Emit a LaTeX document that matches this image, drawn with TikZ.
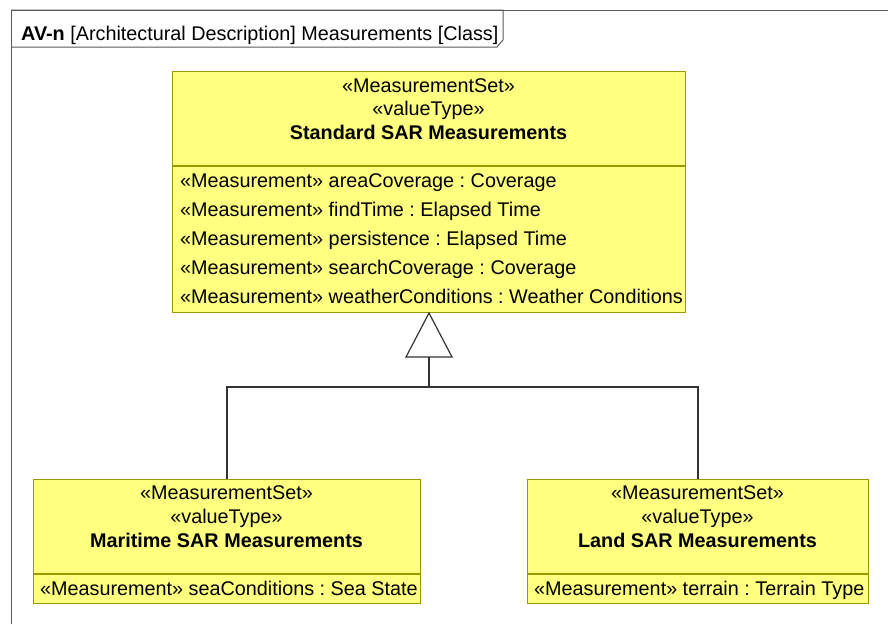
\documentclass[tikz,border=0pt]{standalone}
\usepackage{fontspec}
\setmainfont{Liberation Sans}
\frenchspacing
\usetikzlibrary{positioning}
\definecolor{umlyellow}{RGB}{255,255,128}
\definecolor{umlolive}{RGB}{153,153,0}
\tikzset{
    x=1pt, y=-1pt, % pixel-like units, y grows downwards
    every node/.style={font=\fontsize{19.8}{23}\selectfont, inner sep=0pt}, % text size for all labels
    block/.style={draw=umlolive, fill=umlyellow, line width=1pt, minimum width=#1}, % a compartment of a class box
    title/.style={anchor=base}, % centred header lines
    attr/.style={anchor=base west}, % attribute lines
    frame/.style={draw=black!65, line width=1pt}, % diagram frame
    link/.style={draw=black!80, line width=1.2pt}, % generalization lines
}
\begin{document}
\begin{tikzpicture}
\useasboundingbox (0,0) rectangle (888,624);
% frame and its name tab
\draw[frame] (11,624) -- (11,10) -- (888,10);
\draw[frame] (11,10) -| (503,40) -- (497,47) -- (11,47);
\node[anchor=base west] (frametitle) at (21,40) {\textbf{AV-n} [Architectural Description] Measurements [Class]};

% class boxes
\node[block=513pt, minimum height=94pt, anchor=north west] (stdhead) at (172,71) {};
\node[block=513pt, minimum height=146pt, below=0pt of stdhead] (stdattr) {};
\node[block=387pt, minimum height=94pt, anchor=north west] (marhead) at (33,479) {};
\node[block=387pt, minimum height=29pt, below=0pt of marhead] (marattr) {};
\node[block=341pt, minimum height=94pt, anchor=north west] (landhead) at (527,479) {};
\node[block=341pt, minimum height=29pt, below=0pt of landhead] (landattr) {};

% texts
\node[title] at (428.5,92) {«MeasurementSet»};
\node[title] at (428.5,115) {«valueType»};
\node[title] at (428.5,139) {\textbf{Standard SAR Measurements}};
\foreach \attrname/\attrtype [count=\i] in {areaCoverage/Coverage, findTime/Elapsed Time, persistence/Elapsed Time, searchCoverage/Coverage, weatherConditions/Weather Conditions}
    \node[attr] at (180,158+29*\i) {«Measurement» \attrname{} : \attrtype};

\node[title] at (226.5,499) {«MeasurementSet»};
\node[title] at (226.5,523) {«valueType»};
\node[title] at (226.5,547) {\textbf{Maritime SAR Measurements}};
\node[attr] at (40,595) {«Measurement» seaConditions : Sea State};

\node[title] at (697.5,499) {«MeasurementSet»};
\node[title] at (697.5,523) {«valueType»};
\node[title] at (697.5,547) {\textbf{Land SAR Measurements}};
\node[attr] at (534,595) {«Measurement» terrain : Terrain Type};

% generalization
\coordinate (tribase) at (429,357);
\coordinate (junc) at (429,387);
\draw[link, fill=white] (stdattr.south) -- (406,357) -- (452,357) -- cycle;
\draw[link] (tribase) -- (junc);
\draw[link] (junc) -| (marhead.north);
\draw[link] (junc) -| (landhead.north);
\end{tikzpicture}
\end{document}
